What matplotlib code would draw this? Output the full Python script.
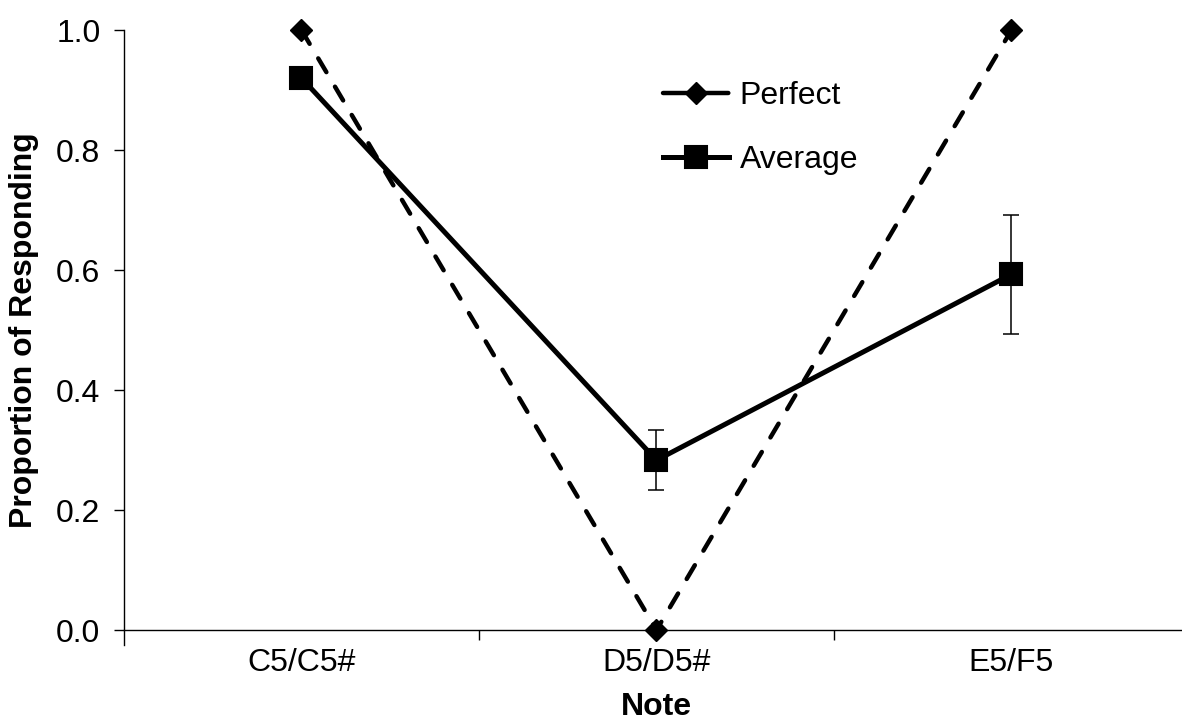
# proportion of responding per note pair, perfect vs average performance
import matplotlib
matplotlib.use("Agg")
from matplotlib import pyplot as plt
from matplotlib.lines import Line2D

plt.rcParams['font.family'] = ['Liberation Sans', 'DejaVu Sans']

notes = ["C5/C5#", "D5/D5#", "E5/F5"]
perfect = [1.0, 0.0, 1.0]
average = [0.92, 0.283, 0.593]
average_err = [0.0, 0.05, 0.099]

fig = plt.figure(figsize=(11.82, 7.26), dpi=100)
ax = fig.add_axes([0.1049, 0.1322, 0.901, 0.8264])

x = list(range(len(notes)))
ax.plot(x, perfect, color="black", linewidth=3.2, linestyle=(0, (3.6, 3.8)),
        dash_capstyle="round", marker="D", markersize=11,
        clip_on=False, zorder=3)
ax.errorbar(x, average, yerr=average_err, fmt="none", ecolor="black",
            elinewidth=1.1, capsize=6, capthick=1.1, zorder=4)
avg_line, = ax.plot(x, average, color="black", linewidth=3.6, marker="s",
                    markersize=16, markeredgewidth=1.5, clip_on=False, zorder=5)

ax.set_xlim(-0.5, 2.5)
ax.set_ylim(0, 1.0)
ax.set_xticks(x)
ax.set_xticklabels(notes)
ax.set_xticks([0.5, 1.5], minor=True)
ax.tick_params(axis="x", which="major", length=0, pad=13, labelsize=23)
ax.tick_params(axis="x", which="minor", length=7, width=1, direction="out")
ax.set_yticks([0.0, 0.2, 0.4, 0.6, 0.8, 1.0])
ax.set_yticklabels([f"{v:.1f}" for v in [0.0, 0.2, 0.4, 0.6, 0.8, 1.0]])
ax.tick_params(axis="y", length=7, width=1, direction="out", pad=10, labelsize=23)

ax.spines['top'].set_visible(False)
ax.spines['right'].set_visible(False)
ax.spines['left'].set_bounds(-0.025, 1.0)
for s in ('left', 'bottom'):
    ax.spines[s].set_linewidth(1)

ax.set_xlabel("Note", fontsize=23, fontweight="bold", labelpad=10)
ax.set_ylabel("Proportion of Responding", fontsize=23, fontweight="bold", labelpad=12)

# legend key for the dashed series: one dash either side of the diamond
perfect_key = Line2D([], [], color="black", linewidth=3.2, linestyle=(0, (7.0, 0.7)),
                     dash_capstyle="round", marker="D", markersize=11)
fig.legend([perfect_key, avg_line], ["Perfect", "Average"], loc="upper left",
           bbox_to_anchor=(0.561, 0.888), frameon=False, fontsize=23,
           handlelength=2.05, handletextpad=0.35, labelspacing=1.06,
           borderpad=0, borderaxespad=0)

plt.savefig("out.png", dpi=100)
